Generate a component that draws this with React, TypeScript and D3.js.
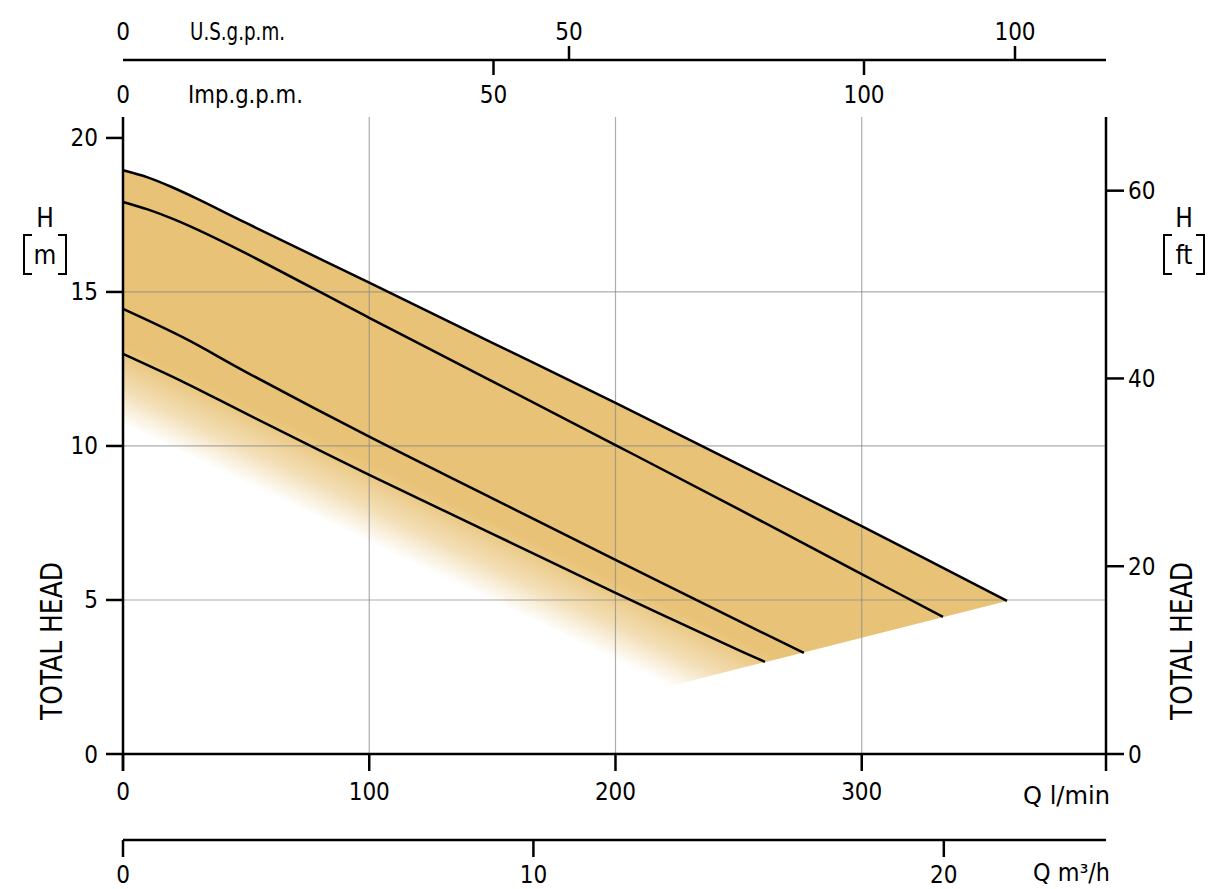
import React, { useRef, useEffect } from "react";
import * as d3 from "d3";

// pump curves, Q in l/min, H in m
const curveMax: [number, number][] = [
  [0, 18.95], [10, 18.72], [20, 18.4], [30, 18.03], [50, 17.24], [100, 15.3],
  [150, 13.35], [200, 11.4], [250, 9.4], [300, 7.4], [359, 4.97],
];
const curveB: [number, number][] = [
  [0, 17.92], [10, 17.68], [20, 17.38], [30, 17.03], [50, 16.25], [100, 14.16],
  [150, 12.1], [200, 10.03], [250, 7.95], [300, 5.84], [333, 4.45],
];
const curveC: [number, number][] = [
  [0, 14.45], [25, 13.5], [50, 12.4], [100, 10.3], [150, 8.3],
  [200, 6.3], [250, 4.32], [276.5, 3.28],
];
const curveMin: [number, number][] = [
  [0, 12.99], [25, 12.06], [50, 11.05], [100, 9.06], [150, 7.15],
  [200, 5.23], [250, 3.37], [260.7, 2.99],
];
// lower edge of the shaded field (system limit, then faded edge)
const fieldLowerEdge: [number, number][] = [
  [222, 2.2],
  [0, 10.7],
];

const qTicks = [0, 100, 200, 300];
const hTicks = [0, 5, 10, 15, 20];
const hGrid = [5, 10, 15];
const ftTicks = [0, 20, 40, 60];
const m3hTicks = [0, 10, 20];
const usTicks = [50, 100];
const usLabels = [0, 50, 100];
const impTicks = [50, 100];
const impLabels = [0, 50, 100];

const W = 1208;
const H = 889;
const FONT = "'DejaVu Sans Condensed', 'DejaVu Sans', sans-serif";
const FILL = "#e8c276";

function PumpChart() {
  const svgRef = useRef<SVGSVGElement>(null);

  useEffect(() => {
    const svg = d3.select(svgRef.current);
    svg.selectAll("*").remove();

    const left = 123;
    const right = 1106;
    const top = 117;
    const bottom = 754;

    const x = d3.scaleLinear().domain([0, 399.2]).range([left, right]);
    const y = d3.scaleLinear().domain([0, 20.68]).range([bottom, top]);
    const yFt = d3.scaleLinear().domain([0, 20.68 * 3.2808]).range([bottom, top]);
    const xM3h = d3.scaleLinear().domain([0, 399.2 * 0.06]).range([left, right]);
    // the gpm scales as printed on the sheet
    const xUs = d3.scaleLinear().domain([0, 100]).range([left, 1015]);
    const xImp = d3.scaleLinear().domain([0, 100]).range([left, 864]);

    const line = d3
      .line<[number, number]>()
      .x((d) => x(d[0]))
      .y((d) => y(d[1]))
      .curve(d3.curveCatmullRom.alpha(0.5));

    // gradient fading toward the lower-left edge of the field
    const e0 = fieldLowerEdge[1];
    const e1 = fieldLowerEdge[0];
    const p0 = [x(e0[0]), y(e0[1])];
    const p1 = [x(e1[0]), y(e1[1])];
    const len = Math.hypot(p1[0] - p0[0], p1[1] - p0[1]);
    const dx = (p1[0] - p0[0]) / len;
    const dy = (p1[1] - p0[1]) / len;
    const nx = dy;
    const ny = -dx;
    const fadeDist = 72;

    const defs = svg.append("defs");
    const grad = defs
      .append("linearGradient")
      .attr("id", "fieldFade")
      .attr("gradientUnits", "userSpaceOnUse")
      .attr("x1", p0[0])
      .attr("y1", p0[1])
      .attr("x2", p0[0] + nx * fadeDist)
      .attr("y2", p0[1] + ny * fadeDist);
    grad.append("stop").attr("offset", 0).attr("stop-color", FILL).attr("stop-opacity", 0);
    grad.append("stop").attr("offset", 0.45).attr("stop-color", FILL).attr("stop-opacity", 0.55);
    grad.append("stop").attr("offset", 1).attr("stop-color", FILL).attr("stop-opacity", 1);

    // shaded field
    const fieldPath =
      line(curveMax) +
      fieldLowerEdge.map((p) => `L${x(p[0])},${y(p[1])}`).join("") +
      `L${x(0)},${y(curveMax[0][1])}Z`;
    svg.append("path").attr("d", fieldPath).attr("fill", "url(#fieldFade)");

    // grid
    const grid = svg.append("g").attr("stroke", "#8a8a8a").attr("stroke-opacity", 0.7).attr("stroke-width", 1.2);
    qTicks
      .filter((q) => q > 0)
      .forEach((q) => {
        grid.append("line").attr("x1", x(q)).attr("x2", x(q)).attr("y1", top).attr("y2", bottom);
      });
    hGrid.forEach((h) => {
      grid.append("line").attr("x1", left).attr("x2", right).attr("y1", y(h)).attr("y2", y(h));
    });

    // curves
    [curveMax, curveB, curveC, curveMin].forEach((c) => {
      svg
        .append("path")
        .attr("d", line(c))
        .attr("fill", "none")
        .attr("stroke", "#000")
        .attr("stroke-width", 2.5)
        .attr("stroke-linejoin", "round");
    });

    const axes = svg.append("g").attr("stroke", "#000").attr("stroke-width", 2.5).attr("fill", "none");
    const txt = svg.append("g").attr("fill", "#000").attr("font-family", FONT).attr("font-stretch", "condensed");

    // main frame: left, right, bottom
    axes.append("line").attr("x1", left).attr("x2", left).attr("y1", top).attr("y2", bottom + 17);
    axes.append("line").attr("x1", right).attr("x2", right).attr("y1", top).attr("y2", bottom + 17);
    axes.append("line").attr("x1", left).attr("x2", right).attr("y1", bottom).attr("y2", bottom);

    // left H [m] axis
    hTicks.forEach((h) => {
      axes.append("line").attr("x1", left - 17).attr("x2", left).attr("y1", y(h)).attr("y2", y(h));
      txt
        .append("text")
        .attr("x", left - 25)
        .attr("y", y(h) + 8.5)
        .attr("text-anchor", "end")
        .attr("font-size", 24)
        .text(h);
    });

    // right H [ft] axis
    ftTicks.forEach((f) => {
      axes.append("line").attr("x1", right).attr("x2", right + 18).attr("y1", yFt(f)).attr("y2", yFt(f));
      txt
        .append("text")
        .attr("x", right + 22)
        .attr("y", yFt(f) + 8.5)
        .attr("text-anchor", "start")
        .attr("font-size", 24)
        .text(f);
    });

    // bottom Q l/min
    qTicks.forEach((q) => {
      axes.append("line").attr("x1", x(q)).attr("x2", x(q)).attr("y1", bottom).attr("y2", bottom + 17);
      txt
        .append("text")
        .attr("x", x(q))
        .attr("y", bottom + 46)
        .attr("text-anchor", "middle")
        .attr("font-size", 24)
        .text(q);
    });
    txt
      .append("text")
      .attr("x", 1110)
      .attr("y", bottom + 50)
      .attr("text-anchor", "end")
      .attr("font-size", 24)
      .attr("textLength", 87)
      .attr("lengthAdjust", "spacingAndGlyphs")
      .text("Q  l/min");

    // m3/h axis
    const m3Y = 840;
    axes.append("line").attr("x1", left).attr("x2", right).attr("y1", m3Y).attr("y2", m3Y);
    m3hTicks.forEach((m) => {
      axes.append("line").attr("x1", xM3h(m)).attr("x2", xM3h(m)).attr("y1", m3Y).attr("y2", m3Y + 17);
      txt
        .append("text")
        .attr("x", xM3h(m))
        .attr("y", 883)
        .attr("text-anchor", "middle")
        .attr("font-size", 24)
        .text(m);
    });
    txt
      .append("text")
      .attr("x", 1110)
      .attr("y", 881)
      .attr("text-anchor", "end")
      .attr("font-size", 24)
      .attr("textLength", 77)
      .attr("lengthAdjust", "spacingAndGlyphs")
      .text("Q  m³/h");

    // top gpm axes (shared line)
    const gY = 60;
    axes.append("line").attr("x1", left).attr("x2", right).attr("y1", gY).attr("y2", gY);
    usTicks.forEach((g) => {
      axes.append("line").attr("x1", xUs(g)).attr("x2", xUs(g)).attr("y1", gY - 14).attr("y2", gY);
    });
    usLabels.forEach((g) => {
      txt
        .append("text")
        .attr("x", xUs(g))
        .attr("y", 40)
        .attr("text-anchor", "middle")
        .attr("font-size", 24)
        .text(g);
    });
    impTicks.forEach((g) => {
      axes.append("line").attr("x1", xImp(g)).attr("x2", xImp(g)).attr("y1", gY).attr("y2", gY + 15);
    });
    impLabels.forEach((g) => {
      txt
        .append("text")
        .attr("x", xImp(g))
        .attr("y", 103)
        .attr("text-anchor", "middle")
        .attr("font-size", 24)
        .text(g);
    });
    txt
      .append("text")
      .attr("x", 190)
      .attr("y", 40)
      .attr("font-size", 24)
      .attr("textLength", 95)
      .attr("lengthAdjust", "spacingAndGlyphs")
      .text("U.S.g.p.m.");
    txt
      .append("text")
      .attr("x", 188)
      .attr("y", 103)
      .attr("font-size", 24)
      .attr("textLength", 115)
      .attr("lengthAdjust", "spacingAndGlyphs")
      .text("Imp.g.p.m.");

    // unit labels with brackets
    const unitLabel = (cx: number, unit: string, bl: number, br: number) => {
      txt.append("text").attr("x", cx).attr("y", 227).attr("text-anchor", "middle").attr("font-size", 26).text("H");
      txt.append("text").attr("x", cx).attr("y", 264).attr("text-anchor", "middle").attr("font-size", 26).text(unit);
      const b = svg.append("g").attr("stroke", "#000").attr("stroke-width", 2).attr("fill", "none");
      b.append("path").attr("d", `M${bl + 8},235H${bl}V274H${bl + 8}`);
      b.append("path").attr("d", `M${br - 8},235H${br}V274H${br - 8}`);
    };
    unitLabel(45, "m", 24, 66);
    unitLabel(1184, "ft", 1164, 1204);

    // TOTAL HEAD
    [62, 1192].forEach((bx) => {
      txt
        .append("text")
        .attr("transform", `translate(${bx},641) rotate(-90)`)
        .attr("text-anchor", "middle")
        .attr("font-size", 31)
        .attr("textLength", 158)
        .attr("lengthAdjust", "spacingAndGlyphs")
        .text("TOTAL HEAD");
    });
  }, []);

  return (
    <svg
      ref={svgRef}
      width={W}
      height={H}
      style={{ position: "absolute", left: 0, top: 0, background: "#fff" }}
    />
  );
}

export default function App() {
  return <PumpChart />;
}
